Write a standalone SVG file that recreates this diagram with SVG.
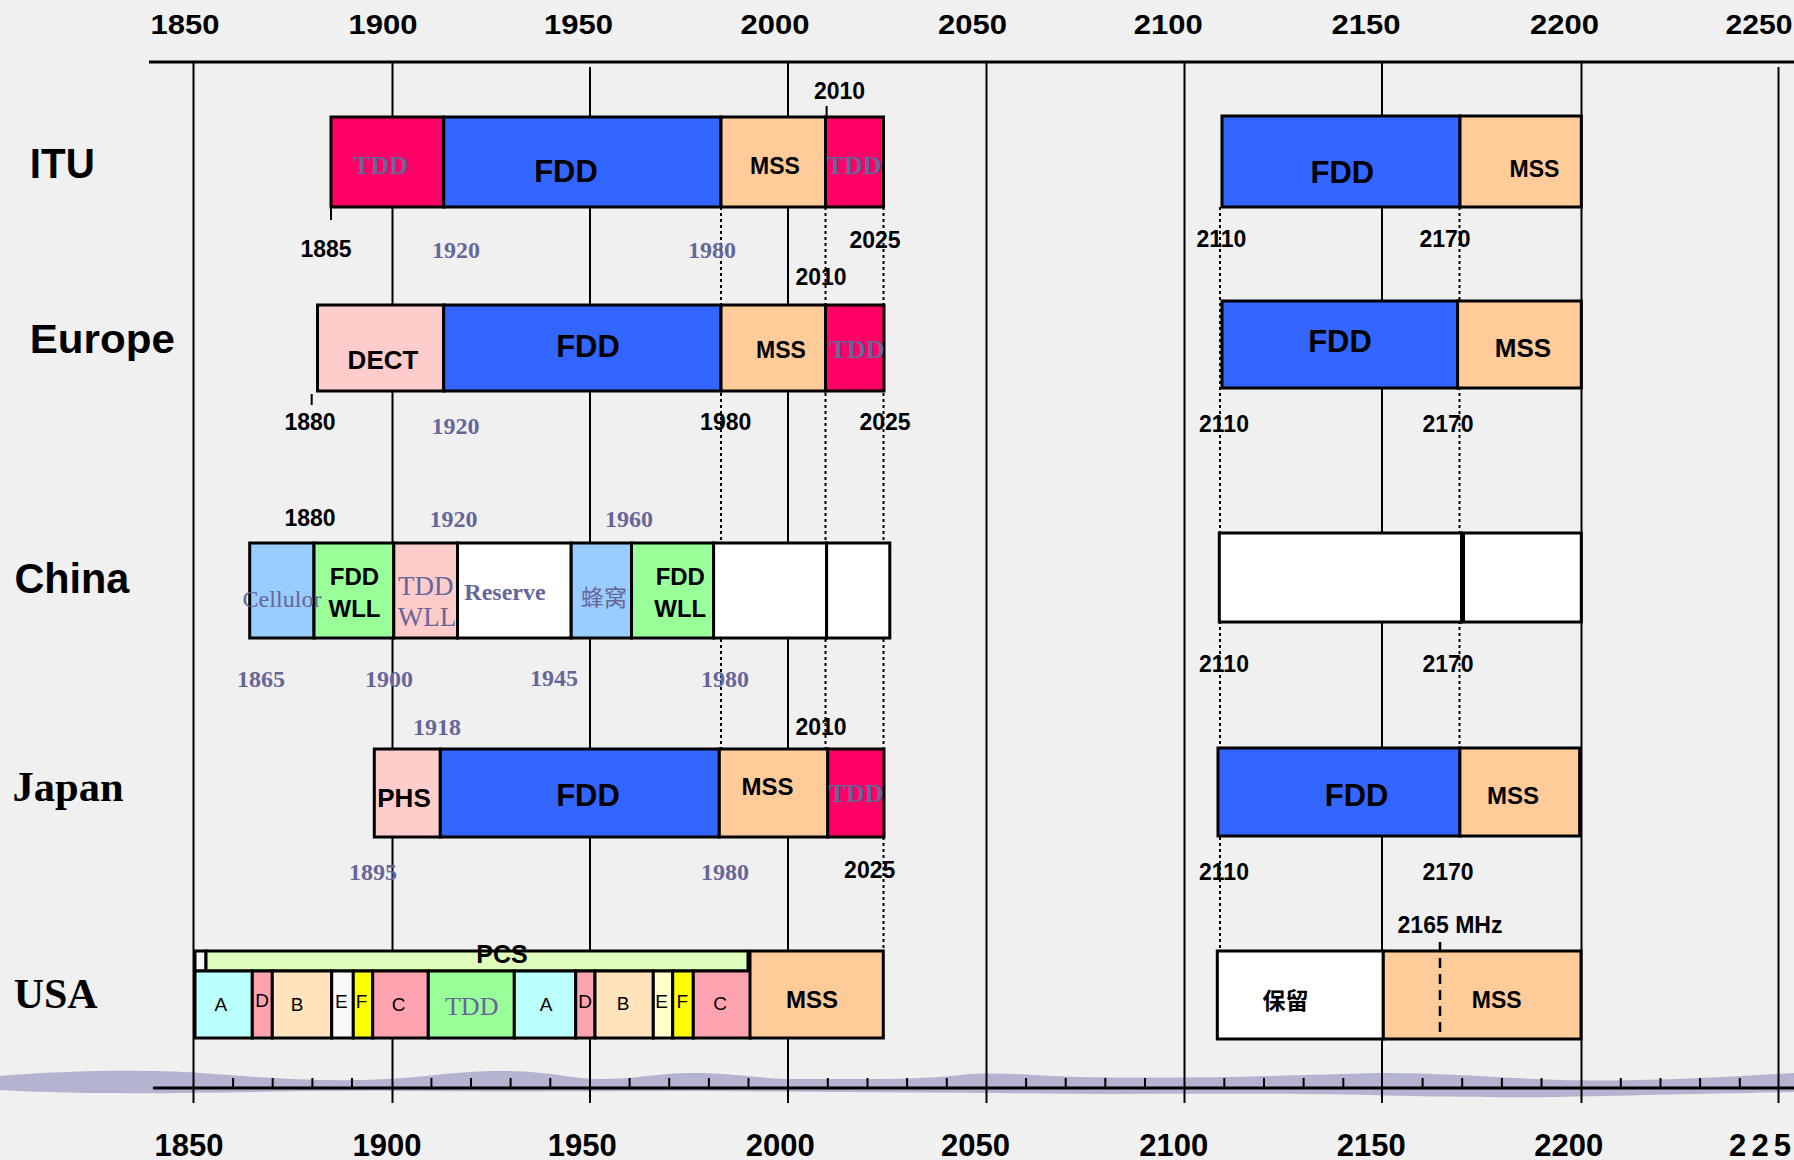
<svg xmlns="http://www.w3.org/2000/svg" width="1794" height="1160" viewBox="0 0 1794 1160">
<style>
.b{font-family:"Liberation Sans",Arial,sans-serif;font-weight:bold;fill:#000;text-anchor:middle}
.n{font-family:"Liberation Sans",Arial,sans-serif;font-weight:normal;fill:#000;text-anchor:middle;font-size:19px}
.s{font-family:"Liberation Serif","Times New Roman",serif;font-weight:bold;fill:#666699;text-anchor:middle}
.sr{font-family:"Liberation Serif","Times New Roman",serif;font-weight:normal;fill:#666699;text-anchor:middle}
.cjk{font-family:"Liberation Sans","Noto Sans CJK SC",sans-serif;text-anchor:middle}
.ax{font-family:"Liberation Sans",Arial,sans-serif;font-weight:bold;fill:#000}
.lbl{font-family:"Liberation Sans",Arial,sans-serif;font-weight:bold;fill:#000}
.lbls{font-family:"Liberation Serif","Times New Roman",serif;font-weight:bold;fill:#000}
.bx{stroke:#000;stroke-width:3}
.grid{stroke:#000;stroke-width:2;fill:none}
.dot{stroke:#000;stroke-width:2;stroke-dasharray:3 3;fill:none}
.red{fill:#FF0066}.blue{fill:#3366FF}.mss{fill:#FFCC99}.pink{fill:#FFCCCC}
.lb{fill:#99CCFF}.grn{fill:#99FF99}.wh{fill:#FFFFFF}
.ua{fill:#BBFFFF}.ud{fill:#FFA3B1}.ub{fill:#FFE3BC}.uy{fill:#FFFF00}
</style>
<rect x="0" y="0" width="1794" height="1160" fill="#F0F0F0"/>

<g id="axes">
  <path d="M0,1076 C60,1071 140,1069 200,1073 C260,1077 300,1081 360,1080 C420,1079 450,1071 500,1071 C550,1071 570,1079 600,1079 C640,1079 660,1072 700,1073 C740,1074 760,1079 800,1079 C860,1079 920,1080 960,1075 C1000,1071 1030,1076 1080,1077 C1200,1079 1300,1075 1380,1073 C1450,1073 1500,1078 1560,1080 C1650,1082 1720,1077 1794,1073 L1794,1092 C1700,1094 1650,1095 1560,1097 C1450,1098 1400,1095 1300,1094 C1200,1093 1100,1095 1000,1093 C900,1092 800,1092 700,1091 C600,1091 500,1092 400,1091 C300,1090 200,1094 100,1093 C60,1093 20,1091 0,1090 Z" fill="#A5A5C9" opacity="0.8"/>
  <line x1="149" y1="62" x2="1794" y2="62" stroke="#000" stroke-width="3"/>
  <line x1="153" y1="1088" x2="1794" y2="1088" stroke="#000" stroke-width="3"/>
  <path class="grid" d="M193.5,62V1103 M392.5,62V1103 M590,67V1103 M788,62V1103 M986.5,62V1103 M1184.5,62V1103 M1382,62V1103 M1581.5,62V1103 M1778.5,67V1103"/>
  <path class="grid" d="M233.1,1078V1088 M272.7,1078V1088 M312.4,1078V1088 M352,1078V1088 M431.4,1078V1088 M471,1078V1088 M510.6,1078V1088 M550.3,1078V1088 M629.6,1078V1088 M669.2,1078V1088 M708.9,1078V1088 M748.5,1078V1088 M827.8,1078V1088 M867.5,1078V1088 M907.1,1078V1088 M946.8,1078V1088 M1026.1,1078V1088 M1065.7,1078V1088 M1105.3,1078V1088 M1145,1078V1088 M1224.3,1078V1088 M1264,1078V1088 M1303.6,1078V1088 M1343.3,1078V1088 M1422.6,1078V1088 M1462.2,1078V1088 M1501.9,1078V1088 M1541.5,1078V1088 M1620.8,1078V1088 M1660.5,1078V1088 M1700.1,1078V1088 M1739.8,1078V1088"/>
  <g class="ax" font-size="27">
    <text x="150.4" y="34" textLength="69" lengthAdjust="spacingAndGlyphs">1850</text>
    <text x="348.5" y="34" textLength="69" lengthAdjust="spacingAndGlyphs">1900</text>
    <text x="544" y="34" textLength="69" lengthAdjust="spacingAndGlyphs">1950</text>
    <text x="740.5" y="34" textLength="69" lengthAdjust="spacingAndGlyphs">2000</text>
    <text x="938" y="34" textLength="69" lengthAdjust="spacingAndGlyphs">2050</text>
    <text x="1133.7" y="34" textLength="69" lengthAdjust="spacingAndGlyphs">2100</text>
    <text x="1331.6" y="34" textLength="69" lengthAdjust="spacingAndGlyphs">2150</text>
    <text x="1530" y="34" textLength="69" lengthAdjust="spacingAndGlyphs">2200</text>
    <text x="1725.5" y="34" textLength="67" lengthAdjust="spacingAndGlyphs">2250</text>
  </g>
  <g class="ax" font-size="31">
    <text x="154.5" y="1156" textLength="69" lengthAdjust="spacingAndGlyphs">1850</text>
    <text x="352.6" y="1156" textLength="69" lengthAdjust="spacingAndGlyphs">1900</text>
    <text x="547.8" y="1156" textLength="69" lengthAdjust="spacingAndGlyphs">1950</text>
    <text x="745.8" y="1156" textLength="69" lengthAdjust="spacingAndGlyphs">2000</text>
    <text x="941" y="1156" textLength="69" lengthAdjust="spacingAndGlyphs">2050</text>
    <text x="1139.2" y="1156" textLength="69" lengthAdjust="spacingAndGlyphs">2100</text>
    <text x="1336.7" y="1156" textLength="69" lengthAdjust="spacingAndGlyphs">2150</text>
    <text x="1534.2" y="1156" textLength="69" lengthAdjust="spacingAndGlyphs">2200</text>
    <text x="1729" y="1156" textLength="62" lengthAdjust="spacing">225</text>
  </g>
</g>

<g id="connectors">
  <path class="dot" d="M721,207V749 M825.5,207V749 M883.5,207V951 M1220,207V951 M1459.5,207V748"/>
  <path class="grid" d="M331,207V220 M826.6,106V117 M311.7,394V405" stroke-width="2.5"/>
</g>

<g id="row-labels">
  <text class="lbl" x="29.8" y="178.3" font-size="42" textLength="65" lengthAdjust="spacingAndGlyphs">ITU</text>
  <text class="lbl" x="29.8" y="353.3" font-size="40" textLength="145" lengthAdjust="spacingAndGlyphs">Europe</text>
  <text class="lbl" x="14.4" y="593.3" font-size="42" textLength="115" lengthAdjust="spacingAndGlyphs">China</text>
  <text class="lbls" x="12.6" y="800.7" font-size="43" textLength="111" lengthAdjust="spacingAndGlyphs">Japan</text>
  <text class="lbls" x="13.7" y="1008.3" font-size="42" textLength="84" lengthAdjust="spacingAndGlyphs">USA</text>
</g>

<g id="itu-low">
  <rect class="bx red" x="331" y="117" width="112.7" height="90"/>
  <rect class="bx blue" x="443.7" y="117" width="277.3" height="90"/>
  <rect class="bx mss" x="721" y="117" width="104.5" height="90"/>
  <rect class="bx red" x="825.5" y="117" width="58" height="90"/>
  <text class="s" x="380.6" y="173.5" font-size="26">TDD</text>
  <text class="b" x="566" y="181.7" font-size="31">FDD</text>
  <text class="b" x="775" y="174" font-size="23">MSS</text>
  <text class="s" x="854" y="173.5" font-size="26">TDD</text>
  <text class="b" x="839.5" y="99.3" font-size="23">2010</text>
  <text class="b" x="326" y="256.7" font-size="23">1885</text>
  <text class="s" x="456" y="258.3" font-size="24">1920</text>
  <text class="s" x="712" y="258" font-size="24">1980</text>
  <text class="b" x="875" y="248.3" font-size="23">2025</text>
  <text class="b" x="821" y="285" font-size="23">2010</text>
</g>

<g id="itu-high">
  <rect class="bx blue" x="1222" y="116" width="238" height="91"/>
  <rect class="bx mss" x="1460" y="116" width="121.3" height="91"/>
  <text class="b" x="1342.4" y="182.7" font-size="31">FDD</text>
  <text class="b" x="1534.5" y="177.3" font-size="23">MSS</text>
  <text class="b" x="1221.4" y="246.7" font-size="23">2110</text>
  <text class="b" x="1445" y="246.7" font-size="23">2170</text>
</g>

<g id="europe-low">
  <rect class="bx pink" x="317.5" y="305" width="126.2" height="86"/>
  <rect class="bx blue" x="443.7" y="305" width="277.3" height="86"/>
  <rect class="bx mss" x="721" y="305" width="104.5" height="86"/>
  <rect class="bx red" x="825.5" y="305" width="58.5" height="86"/>
  <text class="b" x="383" y="369" font-size="26">DECT</text>
  <text class="b" x="588" y="357.3" font-size="31">FDD</text>
  <text class="b" x="781" y="358.3" font-size="23">MSS</text>
  <text class="s" x="857" y="358" font-size="26">TDD</text>
  <text class="b" x="310" y="430" font-size="23">1880</text>
  <text class="s" x="455.5" y="434" font-size="24">1920</text>
  <text class="b" x="725.7" y="430" font-size="23">1980</text>
  <text class="b" x="885" y="430" font-size="23">2025</text>
</g>

<g id="europe-high">
  <rect class="bx blue" x="1222" y="301" width="235.6" height="87"/>
  <rect class="bx mss" x="1457.6" y="301" width="123.7" height="87"/>
  <text class="b" x="1340" y="351.7" font-size="31">FDD</text>
  <text class="b" x="1523" y="357.3" font-size="26">MSS</text>
  <text class="b" x="1224" y="431.7" font-size="23">2110</text>
  <text class="b" x="1448" y="431.7" font-size="23">2170</text>
</g>

<g id="china-low">
  <rect class="bx lb" x="249.7" y="543" width="64.3" height="95"/>
  <rect class="bx grn" x="314" y="543" width="79.8" height="95"/>
  <rect class="bx pink" x="393.8" y="543" width="63.7" height="95"/>
  <rect class="bx wh" x="457.5" y="543" width="113.7" height="95"/>
  <rect class="bx lb" x="571.2" y="543" width="60.3" height="95"/>
  <rect class="bx grn" x="631.5" y="543" width="82.1" height="95"/>
  <rect class="bx wh" x="713.6" y="543" width="113" height="95"/>
  <rect class="bx wh" x="826.6" y="543" width="63.2" height="95"/>
  <text class="b" x="310" y="526" font-size="23">1880</text>
  <text class="s" x="453.5" y="527.3" font-size="24">1920</text>
  <text class="s" x="629" y="527.3" font-size="24">1960</text>
  <text class="sr" x="282" y="607" font-size="24" textLength="79" lengthAdjust="spacingAndGlyphs">Cellulor</text>
  <text class="b" x="354.5" y="585" font-size="24">FDD</text>
  <text class="b" x="354.5" y="616.7" font-size="24">WLL</text>
  <text class="sr" x="425.7" y="595" font-size="27">TDD</text>
  <text class="sr" x="427" y="626" font-size="27">WLL</text>
  <text class="s" x="505" y="600" font-size="24">Reserve</text>
  <text class="cjk" x="604" y="606" font-size="23" fill="#666699">蜂窝</text>
  <text class="b" x="680.3" y="585" font-size="24">FDD</text>
  <text class="b" x="680.3" y="616.7" font-size="24">WLL</text>
  <text class="s" x="261" y="686.7" font-size="24">1865</text>
  <text class="s" x="389" y="686.7" font-size="24">1900</text>
  <text class="s" x="554" y="686" font-size="24">1945</text>
  <text class="s" x="725" y="686.7" font-size="24">1980</text>
</g>

<g id="china-high">
  <rect class="bx wh" x="1219.3" y="533" width="242.3" height="89"/>
  <rect class="bx wh" x="1461.6" y="533" width="119.7" height="89"/>
  <line x1="1464" y1="533" x2="1464" y2="622" stroke="#000" stroke-width="2"/>
  <text class="b" x="1224" y="671.7" font-size="23">2110</text>
  <text class="b" x="1448" y="671.7" font-size="23">2170</text>
</g>

<g id="japan-low">
  <rect class="bx pink" x="374.3" y="749" width="66" height="88"/>
  <rect class="bx blue" x="440.3" y="749" width="279" height="88"/>
  <rect class="bx mss" x="719.3" y="749" width="108.5" height="88"/>
  <rect class="bx red" x="827.8" y="749" width="56.2" height="88"/>
  <text class="s" x="437" y="735" font-size="24">1918</text>
  <text class="b" x="821" y="735" font-size="23">2010</text>
  <text class="b" x="404" y="806.7" font-size="26">PHS</text>
  <text class="b" x="588" y="806" font-size="31">FDD</text>
  <text class="b" x="767.5" y="795" font-size="24">MSS</text>
  <text class="s" x="856" y="801.7" font-size="26">TDD</text>
  <text class="s" x="373" y="880" font-size="24">1895</text>
  <text class="s" x="725" y="880" font-size="24">1980</text>
  <text class="b" x="869.7" y="878.3" font-size="23">2025</text>
</g>

<g id="japan-high">
  <rect class="bx blue" x="1218" y="748" width="241.9" height="88"/>
  <rect class="bx mss" x="1459.9" y="748" width="119.7" height="88"/>
  <text class="b" x="1356.6" y="806" font-size="31">FDD</text>
  <text class="b" x="1513" y="804" font-size="24">MSS</text>
  <text class="b" x="1224" y="880" font-size="23">2110</text>
  <text class="b" x="1448" y="880" font-size="23">2170</text>
  <text class="b" x="1450" y="933.3" font-size="23">2165 MHz</text>
</g>

<g id="usa-low">
  <rect class="bx" x="195" y="951" width="11" height="20" fill="#F8F8F8"/>
  <rect class="bx" x="206" y="951" width="542" height="20" fill="#DDFFBB"/>
  <rect class="bx ua" x="195" y="971" width="57.3" height="67"/>
  <rect class="bx ud" x="252.3" y="971" width="20" height="67"/>
  <rect class="bx ub" x="272.3" y="971" width="59.4" height="67"/>
  <rect class="bx" x="331.7" y="971" width="21.6" height="67" fill="#F8F8F8"/>
  <rect class="bx uy" x="353.3" y="971" width="19.4" height="67"/>
  <rect class="bx ud" x="372.7" y="971" width="55.6" height="67"/>
  <rect class="bx grn" x="428.3" y="971" width="86" height="67"/>
  <rect class="bx ua" x="514.3" y="971" width="61.4" height="67"/>
  <rect class="bx ud" x="575.7" y="971" width="19.3" height="67"/>
  <rect class="bx ub" x="595" y="971" width="58.3" height="67"/>
  <rect class="bx" x="653.3" y="971" width="19.4" height="67" fill="#FFFFCC"/>
  <rect class="bx uy" x="672.7" y="971" width="20.6" height="67"/>
  <rect class="bx ud" x="693.3" y="971" width="57.7" height="67"/>
  <rect class="bx mss" x="750" y="951" width="133.3" height="87"/>
  <text class="b" x="502" y="963.3" font-size="25">PCS</text>
  <text class="n" x="220.8" y="1010.7">A</text>
  <text class="n" x="262" y="1006.7" font-size="17">D</text>
  <text class="n" x="297" y="1010.7">B</text>
  <text class="n" x="341.3" y="1008">E</text>
  <text class="n" x="361.5" y="1008">F</text>
  <text class="n" x="398.7" y="1010.7">C</text>
  <text class="sr" x="471.7" y="1015" font-size="26">TDD</text>
  <text class="n" x="546.2" y="1010.7">A</text>
  <text class="n" x="585" y="1008">D</text>
  <text class="n" x="623" y="1010">B</text>
  <text class="n" x="661.7" y="1008">E</text>
  <text class="n" x="682.3" y="1008">F</text>
  <text class="n" x="720" y="1010">C</text>
  <text class="b" x="812" y="1008.3" font-size="24">MSS</text>
</g>

<g id="usa-high">
  <rect class="bx wh" x="1217.3" y="951" width="166" height="88"/>
  <rect class="bx mss" x="1383.3" y="951" width="197.7" height="88"/>
  <line x1="1440" y1="942" x2="1440" y2="1039" stroke="#000" stroke-width="2.5" stroke-dasharray="10 6"/>
  <text class="cjk" x="1285.5" y="1008.5" font-size="23" font-weight="bold">保留</text>
  <text class="b" x="1496.7" y="1008.3" font-size="23">MSS</text>
</g>
</svg>
